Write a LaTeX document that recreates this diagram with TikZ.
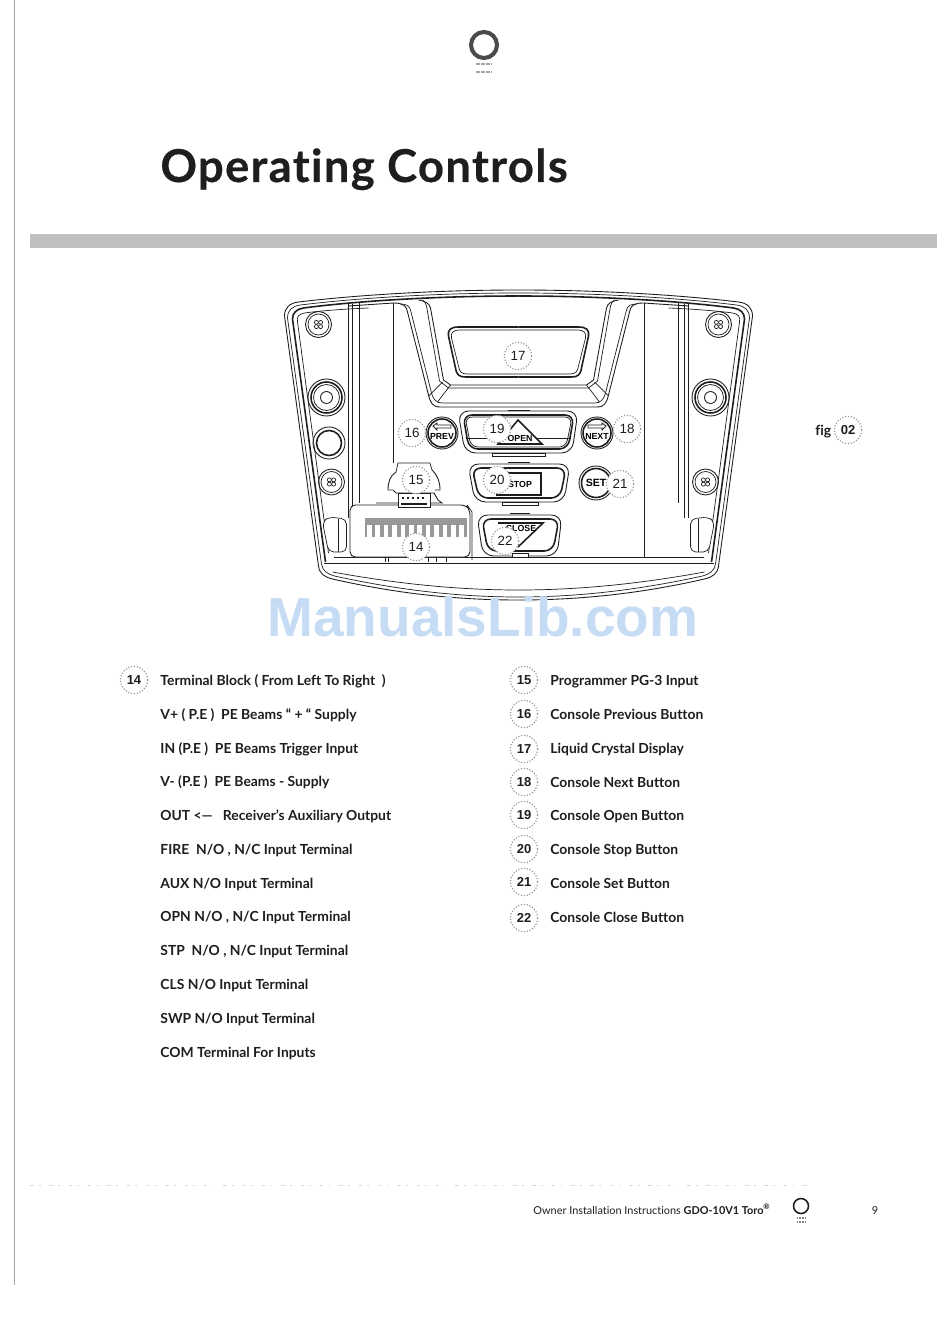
\documentclass[tikz,border=0pt]{standalone}
\usepackage{fontspec}
\setmainfont{Lato}[Ligatures=NoCommon]
\newfontfamily\armfont{Liberation Sans}
\newfontfamily\titlefont{Lato}[Ligatures=NoCommon,LetterSpace=3,FakeBold=0.4,BoldFont={* Bold}]
\definecolor{inkblack}{HTML}{1E1E1E}
\definecolor{markblue}{HTML}{C6DCF5}
\tikzset{
  badge/.style={circle, draw=gray!85, densely dotted, line width=0.65pt, fill=white, minimum size=15.5pt, inner sep=0pt, text=inkblack, font=\armfont\fontsize{7.6}{9}\selectfont},
  listbadge/.style={badge, font=\armfont\bfseries\fontsize{7.4}{9}\selectfont},
  legend/.style={anchor=base west, inner sep=0pt, text=inkblack, font=\bfseries\fontsize{7.9}{9}\selectfont},
  keytext/.style={inner sep=0pt, text=black, font=\armfont\bfseries\fontsize{5}{6}\selectfont},
  heavy/.style={line width=0.9pt},
  fine/.style={line width=0.4pt},
  smudge/.style={gray!70, line width=1.2pt, dash pattern=on 1pt off 0.4pt}
}
\begin{document}
\begin{tikzpicture}[x=0.02cm,y=-0.02cm,line width=0.5pt,draw=inkblack]
    \useasboundingbox[fill=white] (0,0) rectangle (950,1341);

    % page furniture
    \draw[gray!70, fine] (14,0) -- (14,1285);
    \draw[gray!30, line width=0.5pt, dash pattern=on 2pt off 3pt on 1pt off 5pt] (30,1185) -- (810,1185);
    \fill[gray!50] (30,234) rectangle (937,248);
    \draw[inkblack!80, line width=2.3pt] (484,45) circle [radius=13];
    \draw[smudge] (476,64) -- (492,64);
    \draw[smudge] (476,72) -- (492,72);
    \draw[inkblack, line width=0.9pt] (801,1206) circle [radius=7.5];
    \draw[gray, line width=0.6pt, dash pattern=on 0.6pt off 0.3pt] (797,1218) -- (805,1218);
    \draw[gray, line width=0.6pt, dash pattern=on 0.6pt off 0.3pt] (797,1222) -- (805,1222);
    \node[anchor=base west, inner sep=0pt, text=inkblack, font=\titlefont\bfseries\fontsize{25.8}{30}\selectfont] (title) at (160,182) {Operating Controls};

    % console, both halves
    \foreach \s in {-1,1} {
      \begin{scope}[shift={(518.5,0)},xscale=\s]
        \draw (0,290) .. controls (90,290) and (170,296) .. (220,302) .. controls (229,303) and (234,308) .. (234,316) -- (200,566) .. controls (199,574) and (194,577) .. (186,579) .. controls (120,594) and (60,600) .. (0,600);
        \draw[fine] (0,293) .. controls (90,293) and (170,299) .. (218,305) .. controls (226,306) and (231,310) .. (231,318) -- (197,564) .. controls (196,571) and (191,574) .. (184,576) .. controls (120,590) and (60,597) .. (0,597);
        \draw[heavy] (0,296) .. controls (90,296) and (170,302) .. (215,308) .. controls (222,309) and (226,313) .. (226,319) -- (193,562);
        \draw[fine] (150,308) .. controls (175,309) and (200,311) .. (214,313) .. controls (220,314) and (222,317) .. (221,322) -- (190,553);
        \draw[fine] (186,572) .. controls (120,584) and (60,590) .. (0,590);
        \draw (0,563) -- (195,563);
        \draw[fine] (0,557) -- (185,557);
        % side posts and walls
        \draw (170,304) -- (170,518);
        \draw[fine] (166,304) -- (166,518);
        \draw (159.5,303) -- (159.5,503);
        \draw[fine, fill=white, rounded corners=3] (172,552) -- (172,519) -- (190,517) -- (196,522) -- (190,552) -- cycle;
        \draw[fine] (180,519) -- (180,552);
        % display bezel
        \draw (170,306) -- (125,303) .. controls (115,303) and (112,306) .. (111,312) -- (90,395) .. controls (88,403) and (86,407) .. (78,407) -- (0,407);
        \draw[fine] (118,304) .. controls (112,304) and (109,306) .. (108,310) -- (87,393) .. controls (85,400) and (82,403) .. (76,403) -- (0,403);
        \draw (100,300) .. controls (94,301) and (89,303) .. (88,308) -- (75,380) -- (68,385) -- (0,385);
        \draw[fine] (96,300) .. controls (94,301) and (93,303) .. (92,306) -- (79,381) -- (70,388) -- (0,388);
        \draw[fine] (90,396) -- (76,382);
        \draw[fine] (81,402) -- (68,385);
        \draw[heavy] (0,327) -- (60,327) .. controls (68,327) and (71,330) .. (70,336) -- (63,368) .. controls (62,375) and (59,377) .. (53,377) -- (0,377);
        \draw[fine] (0,330) -- (58,330) .. controls (66,330) and (68,333) .. (67,338) -- (60,366) .. controls (59,372) and (57,374) .. (51,374) -- (0,374);
        % fixings
        \draw (200,324.5) circle [radius=13];
        \draw[fine] (200,324.5) circle [radius=10.5];
        \draw (192,397.5) circle [radius=18.5];
        \draw[heavy] (192,397.5) circle [radius=15.5];
        \draw[fine] (192,397.5) circle [radius=13];
        \draw (192,397.5) circle [radius=6];
        \draw (187,482) circle [radius=13];
        \draw[fine] (187,482) circle [radius=10.5];
        \foreach \a in {45,135,225,315} {
          \draw[fine] (200,324.5) ++(\a:3) circle [radius=2];
          \draw[fine] (187,482) ++(\a:3) circle [radius=2];
        }
      \end{scope}
    }
    \draw (329,443) circle [radius=16];
    \draw[heavy] (329,443) circle [radius=12.5];
    \draw (644,303) -- (644,557);
    \draw (393,303) -- (393,463);

    % round keys
    \draw[fill=white] (442,433) circle [radius=16];
    \draw[heavy] (442,433) circle [radius=14];
    \draw[fill=white] (433,426) -- (437,423) -- (437,425) -- (451,425) -- (451,428) -- (437,428) -- (437,430) -- cycle;
    \node[keytext] (prevkey) at (442,436.5) {PREV};
    \draw[fill=white] (597,433) circle [radius=16];
    \draw[heavy] (597,433) circle [radius=14];
    \draw[fill=white] (606,426) -- (602,423) -- (602,425) -- (588,425) -- (588,428) -- (602,428) -- (602,430) -- cycle;
    \node[keytext] (nextkey) at (597,436.5) {NEXT};
    \draw[fill=white] (596,483) circle [radius=17];
    \draw[heavy] (596,483) circle [radius=14.5];
    \node[keytext, font=\armfont\bfseries\fontsize{6}{7}\selectfont] (setkey) at (596,483) {SET};

    % open key
    \draw[rounded corners=6] (458,411) -- (578,411) -- (572,453) -- (465,453) -- cycle;
    \draw[heavy, rounded corners=5] (463,415) -- (574,415) -- (568,449) -- (469,449) -- cycle;
    \draw[fine, rounded corners=4] (465,417) -- (572,417) -- (566,447) -- (471,447) -- cycle;
    \draw[fine, fill=white] (492,453) rectangle (545,456);
    \draw[fine] (508,410) -- (530,410);
    \draw[fine] (466,438) -- (571,438);
    \draw[heavy, fill=white] (518,420) -- (542,444) -- (498,444) -- cycle;
    \node[keytext] (openkey) at (520,438.5) {OPEN};

    % stop key
    \draw[rounded corners=6] (468,464) -- (570,464) -- (564,502) -- (475,502) -- cycle;
    \draw[heavy, rounded corners=5] (472,468) -- (566,468) -- (560,498) -- (479,498) -- cycle;
    \draw[fine, fill=white] (502,502) rectangle (538,505);
    \draw[fine] (508,462) -- (530,462);
    \draw[heavy, fill=white] (497,473) rectangle (541,495);
    \node[keytext] (stopkey) at (520,484) {STOP};

    % close key
    \draw[rounded corners=6] (477,515) -- (562,515) -- (557,556) -- (483,556) -- cycle;
    \draw[heavy, rounded corners=5] (482,519) -- (559,519) -- (553,551) -- (488,551) -- cycle;
    \draw[fine, fill=white] (512,553) rectangle (528,557);
    \draw[fine] (510,513) -- (530,513);
    \draw[heavy] (498,523) -- (543,523) -- (518,547);
    \node[keytext] (closekey) at (521,528) {CLOSE};

    % terminal block and programmer socket
    \draw[fill=white, rounded corners=3] (350,505) -- (466,505) -- (470,510) -- (470,557) -- (350,557) -- cycle;
    \draw[fine] (467,505) -- (472,512) -- (472,560);
    \fill[gray!80] (365,518) rectangle (467,537);
    \foreach \i in {0,...,11} {
      \fill[white] ({367+8.4*\i},525) rectangle ({371.5+8.4*\i},537);
    }
    \draw[fine] (398,463) -- (430,463) -- (432,470);
    \draw[fine] (398,463) -- (396,472);
    \draw (396,472) .. controls (390,476) and (388,482) .. (388,490) -- (393,490);
    \draw (432,470) .. controls (438,476) and (440,482) .. (440,490) -- (435,490);
    \draw[fill=white] (393,490) -- (396,493) -- (434,493) -- (438,500) -- (442,503) -- (376,503);
    \draw[fill=white] (398,493) rectangle (430,507);
    \draw[heavy] (401,504) -- (427,504);
    \draw[heavy, dotted] (402,498) -- (427,498);
    \draw[fine] (385,557) -- (385,562);
    \draw[fine] (388,557) -- (388,562);
    \draw[fine] (428,557) -- (428,562);
    \draw[fine] (436,557) -- (436,562);
    \draw[fine] (446,557) -- (446,562);

    % callouts on the console
    \node[badge] (c17) at (518,356) {17};
    \node[badge] (c16) at (412,433) {16};
    \node[badge] (c19) at (497,429) {19};
    \node[badge] (c18) at (627,429) {18};
    \node[badge] (c15) at (416,480) {15};
    \node[badge] (c20) at (497,480) {20};
    \node[badge] (c21) at (620,484) {21};
    \node[badge] (c22) at (505,541) {22};
    \node[badge] (c14) at (416,547) {14};
    \node[legend] (figlabel) at (815,435) {fig};
    \node[listbadge] (c02) at (848,430) {02};

    \node[anchor=base west, inner sep=0pt, text=markblue, font=\armfont\bfseries\fontsize{31.3}{36}\selectfont] (watermark) at (267,636) {ManualsLib.com};

    % left list
    \node[listbadge] (k14) at (134,680) {14};
    \node[legend] (block) at (160,685) {Terminal Block ( From Left To Right\ \ )};
    \node[legend] (vplus) at (160,719) {V+ ( P.E )\ \ PE Beams “ + “ Supply};
    \node[legend] (inpe) at (160,753) {IN (P.E )\ \ PE Beams Trigger Input};
    \node[legend] (vminus) at (160,786) {V- (P.E )\ \ PE Beams - Supply};
    \node[legend] (outaux) at (160,820) {OUT <—\ \ \ Receiver’s Auxiliary Output};
    \node[legend] (fire) at (160,854) {FIRE\ \ N/O , N/C Input Terminal};
    \node[legend] (aux) at (160,888) {AUX N/O Input Terminal};
    \node[legend] (opn) at (160,921) {OPN N/O , N/C Input Terminal};
    \node[legend] (stp) at (160,955) {STP\ \ N/O , N/C Input Terminal};
    \node[legend] (cls) at (160,989) {CLS N/O Input Terminal};
    \node[legend] (swp) at (160,1023) {SWP N/O Input Terminal};
    \node[legend] (com) at (160,1057) {COM Terminal For Inputs};

    % right list
    \node[listbadge] (k15) at (524,680) {15};
    \node[listbadge] (k16) at (524,714) {16};
    \node[listbadge] (k17) at (524,749) {17};
    \node[listbadge] (k18) at (524,782) {18};
    \node[listbadge] (k19) at (524,815) {19};
    \node[listbadge] (k20) at (524,849) {20};
    \node[listbadge] (k21) at (524,882) {21};
    \node[listbadge] (k22) at (524,918) {22};
    \node[legend] (pgthree) at (550,685) {Programmer PG-3 Input};
    \node[legend] (prevtxt) at (550,719) {Console Previous Button};
    \node[legend] (lcdtxt) at (550,753) {Liquid Crystal Display};
    \node[legend] (nexttxt) at (550,787) {Console Next Button};
    \node[legend] (opentxt) at (550,820) {Console Open Button};
    \node[legend] (stoptxt) at (550,854) {Console Stop Button};
    \node[legend] (settxt) at (550,888) {Console Set Button};
    \node[legend] (closetxt) at (550,922) {Console Close Button};

    % footer
    \node[anchor=base west, inner sep=0pt, text=inkblack, font=\fontsize{6.2}{8}\selectfont] (owner) at (533,1214) {Owner Installation Instructions \textbf{GDO-10V1 Toro\textsuperscript{®}}};
    \node[anchor=base, inner sep=0pt, text=inkblack, font=\fontsize{6.2}{8}\selectfont] (pageno) at (875,1214) {9};
\end{tikzpicture}
\end{document}
